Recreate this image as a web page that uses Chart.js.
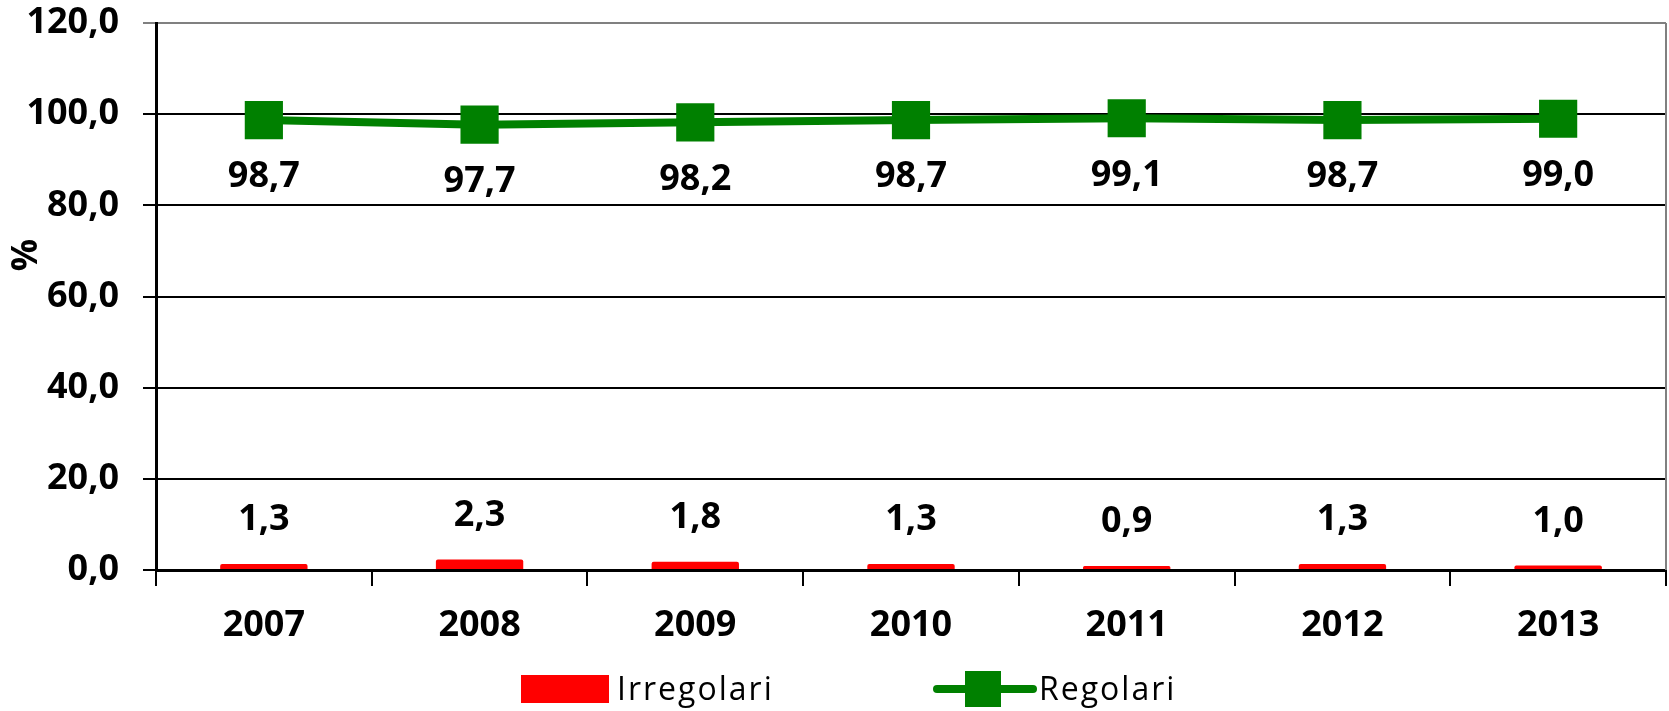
<!DOCTYPE html>
<html>
<head>
<meta charset="utf-8">
<script src="https://cdn.jsdelivr.net/npm/chart.js"></script>
<style>
  html, body { margin: 0; padding: 0; background: #ffffff; }
  #wrap { width: 1669px; height: 711px; }
</style>
</head>
<body>
<div id="wrap"><canvas id="Chart1" width="1669" height="711"></canvas></div>
<script>
// categories and series
const years = ["2007", "2008", "2009", "2010", "2011", "2012", "2013"];
const irregolari = [1.3, 2.3, 1.8, 1.3, 0.9, 1.3, 1.0];
const regolari = [98.7, 97.7, 98.2, 98.7, 99.1, 98.7, 99.0];
const yTicks = [0, 20, 40, 60, 80, 100, 120];

const FONT = "'Open Sans', 'Noto Sans', sans-serif";
const RED = "#FF0000";
const GREEN = "#008000";

function fmt(v) {
    return Number(v).toFixed(1).replace(".", ",");
}

// value labels, "%" title, right frame line and legend
const extras = {
    id: "extras",
    beforeDatasetsDraw(chart) {
        const { ctx, chartArea } = chart;
        ctx.save();
        ctx.strokeStyle = "#808080";
        ctx.lineWidth = 2;
        ctx.beginPath();
        ctx.moveTo(chartArea.right, chartArea.top);
        ctx.lineTo(chartArea.right, chartArea.bottom);
        ctx.stroke();
        ctx.restore();
    },
    afterDatasetsDraw(chart) {
        const { ctx } = chart;
        ctx.save();
        ctx.font = "bold 36px " + FONT;
        ctx.fillStyle = "#000000";
        ctx.textAlign = "center";
        ctx.textBaseline = "middle";

        chart.getDatasetMeta(0).data.forEach((bar, i) => {
            ctx.fillText(fmt(irregolari[i]), bar.x, bar.y - 44);
        });
        chart.getDatasetMeta(1).data.forEach((pt, i) => {
            ctx.fillText(fmt(regolari[i]), pt.x, pt.y + 57);
        });

        // axis title
        ctx.save();
        ctx.translate(27, 255);
        ctx.rotate(-Math.PI / 2);
        ctx.fillText("%", 0, 0);
        ctx.restore();

        // legend
        const ly = 689;
        ctx.fillStyle = RED;
        ctx.fillRect(521, ly - 14, 88, 28);

        ctx.strokeStyle = GREEN;
        ctx.lineWidth = 8;
        ctx.lineCap = "round";
        ctx.beginPath();
        ctx.moveTo(937, ly);
        ctx.lineTo(1033, ly);
        ctx.stroke();
        ctx.fillStyle = GREEN;
        ctx.fillRect(983 - 18, ly - 18, 36, 36);

        ctx.fillStyle = "#000000";
        ctx.font = "32px " + FONT;
        ctx.letterSpacing = "2px";
        ctx.textAlign = "left";
        ctx.fillText("Irregolari", 617, ly + 2);
        ctx.fillText("Regolari", 1039, ly + 2);
        ctx.restore();
    },
};

const ctx1 = document.getElementById("Chart1").getContext("2d");
const chart1 = new Chart(ctx1, {
    data: {
        labels: years,
        datasets: [
            {
                type: "bar",
                label: "Irregolari",
                data: irregolari,
                backgroundColor: RED,
                borderRadius: 2,
                borderSkipped: "bottom",
                categoryPercentage: 1,
                barPercentage: 0.405,
                order: 2,
            },
            {
                type: "line",
                label: "Regolari",
                data: regolari,
                borderColor: GREEN,
                backgroundColor: GREEN,
                borderWidth: 8,
                pointStyle: "rect",
                pointRadius: 27,
                pointBorderWidth: 0,
                pointBackgroundColor: GREEN,
                tension: 0,
                order: 1,
            },
        ],
    },
    options: {
        responsive: false,
        animation: false,
        events: [],
        layout: {
            autoPadding: false,
            padding: { top: 23, right: 3, left: 0, bottom: 0 },
        },
        plugins: {
            legend: { display: false },
            tooltip: { enabled: false },
            title: { display: false },
        },
        scales: {
            x: {
                offset: true,
                grid: {
                    offset: true,
                    drawOnChartArea: false,
                    drawTicks: true,
                    tickLength: 16,
                    color: "#000000",
                    lineWidth: 2,
                },
                border: { display: true, color: "#000000", width: 3 },
                ticks: {
                    color: "#000000",
                    padding: 18,
                    font: { family: FONT, size: 36, weight: "bold" },
                },
                afterFit(scale) {
                    scale.height = 141;
                },
            },
            y: {
                min: yTicks[0],
                max: yTicks[yTicks.length - 1],
                afterBuildTicks(scale) {
                    scale.ticks = yTicks.map((v) => ({ value: v }));
                },
                grid: {
                    color: (c) => (c.tick && c.tick.value === 120 ? "#808080" : "#000000"),
                    lineWidth: 2,
                    tickLength: 13,
                },
                border: { display: true, color: "#000000", width: 3 },
                ticks: {
                    color: "#000000",
                    padding: 24,
                    font: { family: FONT, size: 36, weight: "bold" },
                    callback: (v) => fmt(v),
                },
                afterFit(scale) {
                    scale.width = 156;
                    scale.paddingTop = 0;
                    scale.paddingBottom = 0;
                },
            },
        },
    },
    plugins: [extras],
});
</script>
</body>
</html>
